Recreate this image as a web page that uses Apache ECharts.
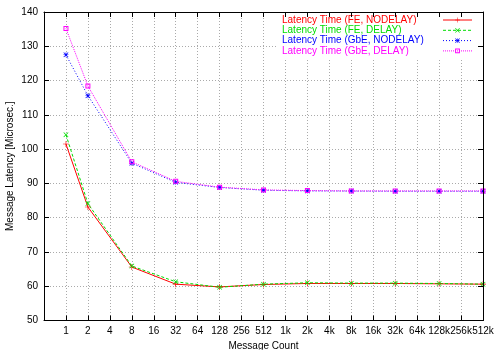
<!DOCTYPE html>
<html>
<head>
<meta charset="utf-8">
<script src="https://cdn.jsdelivr.net/npm/echarts@6/dist/echarts.min.js"></script>
<style>html,body{margin:0;padding:0;background:#fff}#c{width:500px;height:350px}</style>
</head>
<body>
<div id="c"></div>
<script>
const categories = ['', '1','2','4','8','16','32','64','128','256','512','1k','2k','4k','8k','16k','32k','64k','128k','256k','512k'];
const msgCounts = ['1','2','8','32','128','512','2k','8k','32k','128k','512k'];
const feNodelay = [101.5, 83.1, 65.6, 60.6, 59.8, 60.5, 60.8, 60.8, 60.8, 60.7, 60.6];
const feDelay = [104.2, 84.1, 65.9, 61.3, 59.7, 60.6, 61.0, 60.9, 60.9, 60.8, 60.6];
const gbeNodelay = [127.5, 115.6, 95.9, 90.3, 88.8, 88.0, 87.8, 87.75, 87.7, 87.7, 87.7];
const gbeDelay = [135.2, 118.4, 96.3, 90.6, 88.9, 88.1, 87.9, 87.8, 87.8, 87.8, 87.8];
const yTicks = {min: 50, max: 140, interval: 10};
const seriesNames = ['Latency Time (FE, NODELAY)', 'Latency Time (FE, DELAY)', 'Latency Time (GbE, NODELAY)', 'Latency Time (GbE, DELAY)'];

const FONT = 'Liberation Sans, Arial, sans-serif';
const plus = 'path://M0,4.5H10V5.5H0Z M4.5,0H5.5V10H4.5Z';
const cross = 'path://M0,1L1,0L10,9L9,10Z M9,0L10,1L1,10L0,9Z';
const star = 'path://M0,4.5H10V5.5H0Z M4.5,0H5.5V10H4.5Z M0,1L1,0L10,9L9,10Z M9,0L10,1L1,10L0,9Z M3,3H7V7H3Z';
const hollowSquare = 'path://M0,0H10V10H0Z M2,2V8H8V2Z';

function pairs(vals){ return msgCounts.map((c,i)=>[c, vals[i]]); }

const colors = ['#ff0000', '#00dd00', '#0000ff', '#ff00ff'];
const chart = echarts.init(document.getElementById('c'));
const gridLine = {show: true, lineStyle: {color: '#aaaaaa', type: [1, 2], width: 1}};
chart.setOption({
  animation: false,
  textStyle: {fontFamily: FONT},
  grid: {left: 44, right: 17, top: 12, bottom: 29.5, containLabel: false, outerBoundsMode: 'none'},
  legend: {
    orient: 'vertical', left: 278, top: 13, align: 'right',
    padding: [2, 7, 2, 4], backgroundColor: '#ffffff',
    itemWidth: 29, itemHeight: 6, itemGap: 0.3,
    lineStyle: {width: 1},
    formatter: '{a|{name}}',
    textStyle: {fontSize: 10, fontFamily: FONT, lineHeight: 10,
      rich: {a: {width: 156, align: 'left', fontSize: 10, fontFamily: FONT, lineHeight: 10}}},
    data: seriesNames.map((n,i)=>({name: n, textStyle: {color: colors[i]}}))
  },
  xAxis: [{
    type: 'category', data: categories, boundaryGap: false, position: 'bottom',
    name: 'Message Count', nameLocation: 'middle', nameGap: 21, nameMoveOverlap: false,
    nameTextStyle: {fontSize: 10, color: '#000'},
    axisLine: {lineStyle: {color: '#000', width: 1}},
    axisTick: {inside: true, length: 5, interval: 0, lineStyle: {color: '#000'}},
    axisLabel: {interval: 0, fontSize: 10, color: '#000', margin: 6},
    splitLine: Object.assign({interval: 0}, gridLine)
  }, {
    type: 'category', data: categories, boundaryGap: false, position: 'top', z: 10,
    axisLine: {lineStyle: {color: '#000', width: 1}},
    axisTick: {inside: true, length: 5, interval: 0, lineStyle: {color: '#000'}},
    axisLabel: {show: false}, splitLine: {show: false}
  }],
  yAxis: [{
    type: 'value', min: yTicks.min, max: yTicks.max, interval: yTicks.interval, position: 'left',
    name: 'Message Latency [Microsec.]', nameLocation: 'middle', nameGap: 29, nameMoveOverlap: false,
    nameTextStyle: {fontSize: 10, color: '#000'},
    axisLine: {show: true, lineStyle: {color: '#000', width: 1}},
    axisTick: {show: true, inside: true, length: 5, lineStyle: {color: '#000'}},
    axisLabel: {fontSize: 10, color: '#000', margin: 6},
    splitLine: gridLine
  }, {
    type: 'value', min: yTicks.min, max: yTicks.max, interval: yTicks.interval, position: 'right', z: 10,
    axisLine: {show: true, lineStyle: {color: '#000', width: 1}},
    axisTick: {show: true, inside: true, length: 5, lineStyle: {color: '#000'}},
    axisLabel: {show: false}, splitLine: {show: false}
  }],
  series: [
    {name: seriesNames[0], type: 'line', data: pairs(feNodelay), symbol: plus, symbolSize: 6,
     lineStyle: {color: colors[0], width: 1, type: 'solid'}, itemStyle: {color: colors[0]}},
    {name: seriesNames[1], type: 'line', data: pairs(feDelay), symbol: cross, symbolSize: 5,
     lineStyle: {color: colors[1], width: 1, type: [3, 2]}, itemStyle: {color: colors[1]}},
    {name: seriesNames[2], type: 'line', data: pairs(gbeNodelay), symbol: star, symbolSize: 5,
     lineStyle: {color: colors[2], width: 1, type: [1, 2]}, itemStyle: {color: colors[2]}},
    {name: seriesNames[3], type: 'line', data: pairs(gbeDelay), symbol: hollowSquare, symbolSize: 5,
     lineStyle: {color: colors[3], width: 1, type: [1, 1]}, itemStyle: {color: colors[3], borderWidth: 0}}
  ]
});
</script>
</body>
</html>
